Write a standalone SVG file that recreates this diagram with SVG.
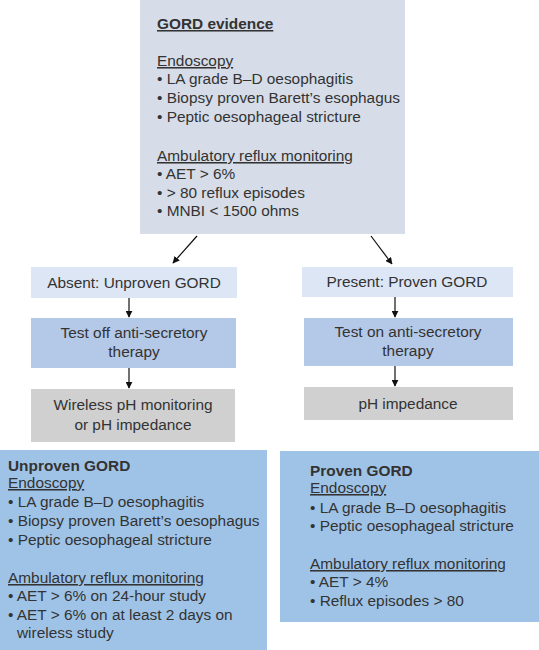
<svg xmlns="http://www.w3.org/2000/svg" width="539" height="650" viewBox="0 0 539 650">
<style>
text{font-family:"Liberation Sans",Arial,sans-serif;font-size:15.4px;fill:#333}
.b{font-weight:bold}
.u{text-decoration:underline}
.c{text-anchor:middle}
.top{fill:#d6dde8}
.l1{fill:#dce6f5}
.l2{fill:#b4c8e7}
.l3{fill:#d0d0d0}
.bot{fill:#9fc3e7}
.ar{stroke:#111;stroke-width:1.2;fill:none;marker-end:url(#ah)}
</style>
<defs>
<marker id="ah" viewBox="0 0 10 10" refX="9" refY="5" markerWidth="7" markerHeight="7" orient="auto" markerUnits="userSpaceOnUse">
<path d="M0,0 L10,5 L0,10 z" fill="#111"/>
</marker>
</defs>
<rect width="539" height="650" fill="#fff"/>
<g id="gord-evidence">
<rect class="top" x="140" y="0" width="265" height="234"/>
<text x="157" y="29" class="b u">GORD evidence</text>
<text x="157" y="66" class="u">Endoscopy</text>
<text x="157" y="84">• LA grade B–D oesophagitis</text>
<text x="157" y="103">• Biopsy proven Barett’s esophagus</text>
<text x="157" y="122">• Peptic oesophageal stricture</text>
<text x="157" y="161" class="u">Ambulatory reflux monitoring</text>
<text x="157" y="179">• AET &gt; 6%</text>
<text x="157" y="198">• &gt; 80 reflux episodes</text>
<text x="157" y="216">• MNBI &lt; 1500 ohms</text>
</g>
<g id="absent">
<rect class="l1" x="31" y="267" width="206" height="31"/>
<text x="134" y="288" class="c">Absent: Unproven GORD</text>
</g>
<g id="present">
<rect class="l1" x="302" y="267" width="211" height="30"/>
<text x="407" y="287" class="c">Present: Proven GORD</text>
</g>
<g id="test-off">
<rect class="l2" x="31" y="318" width="205" height="50"/>
<text x="134" y="338" class="c">Test off anti-secretory</text>
<text x="134" y="357" class="c">therapy</text>
</g>
<g id="test-on">
<rect class="l2" x="304" y="318" width="209" height="48"/>
<text x="408" y="337" class="c">Test on anti-secretory</text>
<text x="408" y="356" class="c">therapy</text>
</g>
<g id="wireless">
<rect class="l3" x="31" y="389" width="204" height="53"/>
<text x="133" y="410" class="c">Wireless pH monitoring</text>
<text x="133" y="430" class="c">or pH impedance</text>
</g>
<g id="ph-impedance">
<rect class="l3" x="304" y="387" width="209" height="33"/>
<text x="408" y="409" class="c">pH impedance</text>
</g>
<g id="unproven">
<rect class="bot" x="0" y="450" width="267" height="200"/>
<text x="8" y="471" class="b">Unproven GORD</text>
<text x="8" y="488" class="u">Endoscopy</text>
<text x="8" y="507">• LA grade B–D oesophagitis</text>
<text x="8" y="526">• Biopsy proven Barett’s oesophagus</text>
<text x="8" y="545">• Peptic oesophageal stricture</text>
<text x="8" y="583" class="u">Ambulatory reflux monitoring</text>
<text x="8" y="601">• AET &gt; 6% on 24-hour study</text>
<text x="8" y="620">• AET &gt; 6% on at least 2 days on</text>
<text x="17" y="638">wireless study</text>
</g>
<g id="proven">
<rect class="bot" x="280" y="451" width="259" height="171"/>
<text x="310" y="476" class="b">Proven GORD</text>
<text x="310" y="493" class="u">Endoscopy</text>
<text x="310" y="513">• LA grade B–D oesophagitis</text>
<text x="310" y="531">• Peptic oesophageal stricture</text>
<text x="310" y="569" class="u">Ambulatory reflux monitoring</text>
<text x="310" y="587">• AET &gt; 4%</text>
<text x="310" y="606">• Reflux episodes &gt; 80</text>
</g>
<g id="connectors">
<path class="ar" d="M197,236 L173,263"/>
<path class="ar" d="M371,236 L392,264"/>
<path class="ar" d="M129,298 L129,317"/>
<path class="ar" d="M129,368 L129,388"/>
<path class="ar" d="M395,297 L395,317"/>
<path class="ar" d="M395,366 L395,386"/>
</g>
</svg>
